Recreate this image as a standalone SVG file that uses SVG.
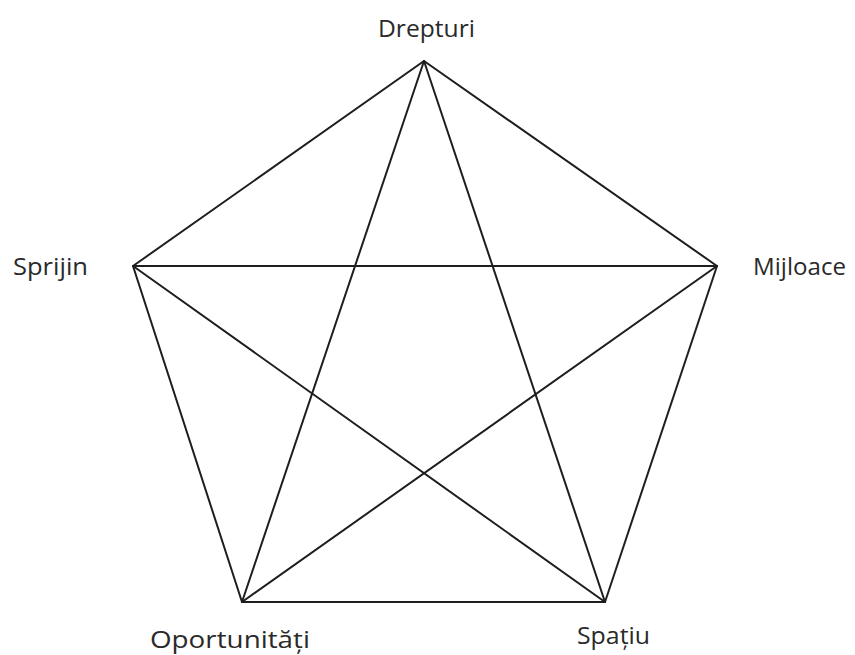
<svg xmlns="http://www.w3.org/2000/svg" width="855" height="655" viewBox="0 0 855 655">
<style>
.e{stroke:#1e1e1e;stroke-width:2;fill:none;stroke-linecap:round}
.t{font-family:"Open Sans","Noto Sans","Liberation Sans",sans-serif;font-size:23px;fill:#2a2a2a}
</style>
<rect width="855" height="655" fill="#fff"/>
<g id="connectors">
<line class="e" x1="424" y1="61" x2="717" y2="266"/>
<line class="e" x1="717" y1="266" x2="605" y2="602"/>
<line class="e" x1="605" y1="602" x2="242" y2="602"/>
<line class="e" x1="242" y1="602" x2="133" y2="266"/>
<line class="e" x1="133" y1="266" x2="424" y2="61"/>
<line class="e" x1="424" y1="61" x2="242" y2="602"/>
<line class="e" x1="424" y1="61" x2="605" y2="602"/>
<line class="e" x1="133" y1="266" x2="717" y2="266"/>
<line class="e" x1="133" y1="266" x2="605" y2="602"/>
<line class="e" x1="717" y1="266" x2="242" y2="602"/>
</g>
<g id="drepturi"><text class="t" x="378" y="37" textLength="97" lengthAdjust="spacingAndGlyphs">Drepturi</text></g>
<g id="sprijin"><text class="t" x="13" y="275" textLength="75" lengthAdjust="spacingAndGlyphs">Sprijin</text></g>
<g id="mijloace"><text class="t" x="753" y="275" textLength="93" lengthAdjust="spacingAndGlyphs">Mijloace</text></g>
<g id="oportunitati"><text class="t" x="150" y="648" textLength="160" lengthAdjust="spacingAndGlyphs">Oportunități</text></g>
<g id="spatiu"><text class="t" x="577" y="644" textLength="73" lengthAdjust="spacingAndGlyphs">Spațiu</text></g>
</svg>
